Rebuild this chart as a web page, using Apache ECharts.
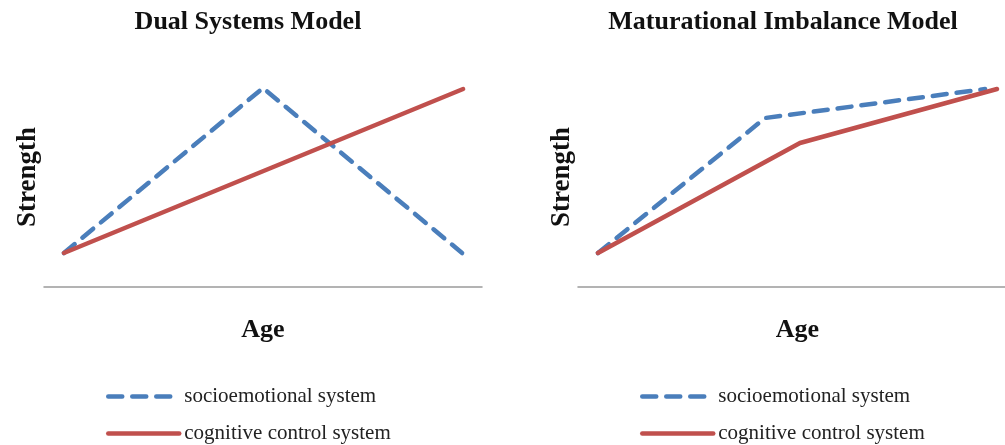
<!DOCTYPE html>
<html>
<head>
<meta charset="utf-8">
<style>
  html, body { margin: 0; padding: 0; background: #fff; overflow: hidden; }
  #chart { width: 1005px; height: 445px; }
</style>
<script src="https://cdn.jsdelivr.net/npm/echarts@6/dist/echarts.min.js"></script>
</head>
<body>
<div id="chart"></div>
<script>
// ---- Data ----
const panelTitles = ['Dual Systems Model', 'Maturational Imbalance Model'];
const seriesNames = ['socioemotional system', 'cognitive control system'];
const xAxisName = 'Age';
const yAxisName = 'Strength';

// Dual Systems Model
const dualSocio = [[1, 1.7], [11, 9.95], [21, 1.7]];
const dualCognitive = [[1, 1.7], [21.05, 9.9]];

// Maturational Imbalance Model
const matSocio = [[1, 1.7], [9.4, 8.45], [20.45, 9.9]];
const matCognitive = [[1, 1.7], [11.15, 7.2], [21.05, 9.9]];

const blue = '#4A7EBB';
const red = '#C0504D';
const serif = '"Liberation Serif", "DejaVu Serif", serif';
const dash = [14, 10];

const chart = echarts.init(document.getElementById('chart'));

function xAx(gridIndex, max, shift) {
  return {
    type: 'value', gridIndex, min: 0, max,
    name: xAxisName, nameLocation: 'middle', nameGap: 30,
    nameTextStyle: { fontFamily: serif, fontWeight: 'bold', fontSize: 26, color: '#111',
      padding: [0, 0, 0, shift] },
    axisLine: { show: true, lineStyle: { color: '#9a9a9a', width: 1.5 } },
    axisTick: { show: false }, axisLabel: { show: false }, splitLine: { show: false }
  };
}
function yAx(gridIndex) {
  return {
    type: 'value', gridIndex, min: 0, max: 11,
    name: yAxisName, nameLocation: 'middle', nameGap: 2, nameRotate: 90,
    nameTextStyle: { fontFamily: serif, fontWeight: 'bold', fontSize: 27, color: '#111' },
    axisLine: { show: false }, axisTick: { show: false }, axisLabel: { show: false }, splitLine: { show: false }
  };
}
function socio(idx, data) {
  return {
    name: seriesNames[0], type: 'line', xAxisIndex: idx, yAxisIndex: idx, data,
    symbol: 'none', silent: true,
    lineStyle: { color: blue, width: 4.5, type: dash, cap: 'round', join: 'round' },
    itemStyle: { color: blue }
  };
}
function cogn(idx, data) {
  return {
    name: seriesNames[1], type: 'line', xAxisIndex: idx, yAxisIndex: idx, data,
    symbol: 'none', silent: true,
    lineStyle: { color: red, width: 4.5, type: 'solid', cap: 'round', join: 'round' },
    itemStyle: { color: red }
  };
}
function legend(left, top, nameIdx) {
  return {
    data: [seriesNames[nameIdx]], orient: 'horizontal', left, top, padding: 0,
    itemWidth: 71, itemHeight: 8, selectedMode: false,
    itemStyle: { opacity: 0 },
    lineStyle: { width: 4.5, cap: 'round', type: nameIdx === 0 ? dash : 'solid' },
    textStyle: { fontFamily: serif, fontSize: 21, color: '#222' }
  };
}

chart.setOption({
  animation: false,
  backgroundColor: '#fff',
  title: [
    { text: panelTitles[0], left: 243, top: 4, textAlign: 'center',
      textStyle: { fontFamily: serif, fontWeight: 'bold', fontSize: 26, color: '#111' } },
    { text: panelTitles[1], left: 778, top: 4, textAlign: 'center',
      textStyle: { fontFamily: serif, fontWeight: 'bold', fontSize: 26, color: '#111' } }
  ],
  grid: [
    { left: 44, width: 438, top: 67, height: 220 },
    { left: 578, width: 427, top: 67, height: 220 }
  ],
  xAxis: [xAx(0, 22, 0), xAx(1, 21.45, 12)],
  yAxis: [yAx(0), yAx(1)],
  legend: [
    legend(106, 386, 0), legend(106, 423, 1),
    legend(640, 386, 0), legend(640, 423, 1)
  ],
  series: [
    socio(0, dualSocio), cogn(0, dualCognitive),
    socio(1, matSocio), cogn(1, matCognitive)
  ]
});
</script>
</body>
</html>
